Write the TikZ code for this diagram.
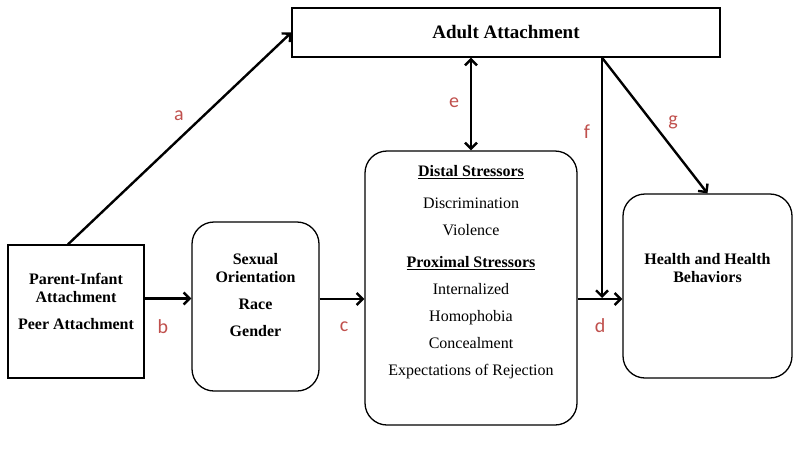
\documentclass[tikz,border=0pt]{standalone}
\usepackage{fontspec}
\setmainfont{Liberation Serif}
\newfontfamily\lblfont{Carlito}
\usetikzlibrary{arrows.meta,positioning}
\definecolor{lblred}{RGB}{192,80,77}
\tikzset{
	>={Straight Barb[length=6pt,width=12pt]}, node distance=1.5cm,
	box/.style={draw, line width=1.3pt, inner sep=0pt},
	rbox/.style={box, rounded corners=22pt},
	txt/.style={anchor=north, inner sep=0pt, align=center, font=\fontsize{16}{18}\selectfont},
	path/.style={->, line width=2.4pt},
	lbl/.style={text=lblred, inner sep=0pt, font=\lblfont\fontsize{20}{24}\selectfont},
}
\begin{document}
\begin{tikzpicture}[x=1pt, y=-1pt]
	\useasboundingbox (0,0) rectangle (800,458);
	\node[box, minimum width=428pt, minimum height=49pt, font=\fontsize{19}{22}\selectfont\bfseries] (adult) at (506,32.5) {Adult Attachment};
	\node[box, minimum width=136pt, minimum height=133pt] (parent) at (76,311.5) {};
	\node[rbox, minimum width=127pt, minimum height=169pt] (identity) at (255.5,306.5) {};
	\node[rbox, minimum width=212pt, minimum height=274pt] (stress) at (471,288) {};
	\node[rbox, minimum width=169pt, minimum height=184pt] (health) at (707.5,286) {};

	\node[txt, font=\fontsize{16}{18}\selectfont\bfseries] (parenttxt) at (76,273) {Parent-Infant\\Attachment\\[9pt]Peer Attachment};
	\node[txt, font=\fontsize{16}{18}\selectfont\bfseries] (identitytxt) at (255.5,253) {Sexual\\Orientation\\[9pt]Race\\[9pt]Gender};
	\node[txt, font=\fontsize{16}{27}\selectfont] (stresstxt) at (471,165) {\textbf{\underline{Distal Stressors}}\\[5pt]Discrimination\\Violence\\[5pt]\textbf{\underline{Proximal Stressors}}\\Internalized\\Homophobia\\Concealment\\Expectations of Rejection};
	\node[txt, font=\fontsize{16}{18}\selectfont\bfseries] (healthtxt) at (707.5,253) {Health and Health\\Behaviors};

	\coordinate (fork) at ([xshift=96pt]adult.south);
	\coordinate (join) at ([yshift=-11pt]stress.east);

	\draw[path] ([xshift=-8pt]parent.north) -- (adult.west);
	\draw[path] ([yshift=13pt]parent.east) -- ([yshift=13pt]parent.east -| identity.west);
	\draw[path] ([yshift=7.5pt]identity.east) -- ([yshift=7.5pt]identity.east -| stress.west);
	\draw[path] (join) -- (join -| health.west);
	\draw[path, <->] (adult.south -| stress.north) -- (stress.north);
	\draw[path] (fork) -- ([yshift=1pt]fork |- join);
	\draw[path] (fork) -- (health.north);

	\node[lbl] (la) at (179,116) {a};
	\node[lbl] (lb) at (163,327) {b};
	\node[lbl] (lc) at (344,327) {c};
	\node[lbl] (ld) at (600,326) {d};
	\node[lbl] (le) at (454,103) {e};
	\node[lbl] (lf) at (587,132) {f};
	\node[lbl] (lg) at (673,122) {g};
\end{tikzpicture}
\end{document}
